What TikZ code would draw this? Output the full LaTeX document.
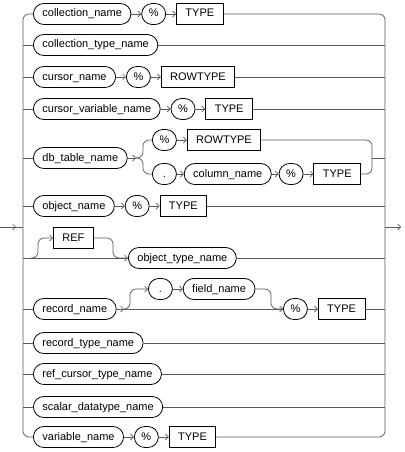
\documentclass[tikz,border=0pt]{standalone}
\usepackage{fontspec}
\setmainfont{Liberation Sans}
\usetikzlibrary{positioning,arrows.meta}

\tikzset{
  rail/.style={draw=black!65, line width=0.7pt},
  arr/.style={-{Straight Barb[length=3pt,width=6pt]}},
  ident/.style={draw, line width=0.8pt, rounded corners=10.5pt, minimum height=21pt,
                inner xsep=9pt, inner ysep=0pt, text height=8pt, text depth=2pt},
  sym/.style={ident, minimum width=24pt, inner xsep=2pt},
  kw/.style={draw, line width=0.8pt, minimum height=21pt, inner xsep=9pt, inner ysep=0pt,
             text height=8pt, text depth=2pt},
}

\begin{document}
\begin{tikzpicture}[x=1pt, y=-1pt, font=\fontsize{11}{13}\selectfont, node distance=10pt]
  \useasboundingbox (0,0) rectangle (404,452);
  % rails and the way in and out
  \coordinate (lrail) at (23,227);
  \coordinate (rrail) at (385,227);
  \coordinate (entry) at (0,227);
  \coordinate (exit) at (401,227);

  % collection_name % TYPE
  \node[ident, anchor=west] (colln) at (33,14) {collection\_name};
  \node[sym, right=of colln] (colpct) {\%};
  \node[kw, right=of colpct] (coltype) {TYPE};
  % collection_type_name
  \node[ident, anchor=west] (colltn) at (33,45) {collection\_type\_name};
  % cursor_name % ROWTYPE
  \node[ident, anchor=west] (curn) at (33,77) {cursor\_name};
  \node[sym, right=of curn] (curpct) {\%};
  \node[kw, right=of curpct] (currow) {ROWTYPE};
  % cursor_variable_name % TYPE
  \node[ident, anchor=west] (curvn) at (33,109) {cursor\_variable\_name};
  \node[sym, right=of curvn] (curvpct) {\%};
  \node[kw, right=of curvpct] (curvtype) {TYPE};
  % db_table_name with its two branches
  \node[ident, anchor=west] (dbtn) at (33,158) {db\_table\_name};
  \node[sym, anchor=west] (dbpct) at (152,140) {\%};
  \node[kw, right=of dbpct] (dbrow) {ROWTYPE};
  \node[sym, anchor=west] (dbdot) at (152,174) {.};
  \node[ident, right=7pt of dbdot] (coln) {column\_name};
  \node[sym, right=7pt of coln] (colnpct) {\%};
  \node[kw, right=of colnpct] (colntype) {TYPE};
  \coordinate (dbfork) at (136,158);
  \coordinate (dbjoin) at (372,158);
  % object_name % TYPE
  \node[ident, anchor=west] (objn) at (33,206) {object\_name};
  \node[sym, right=of objn] (objpct) {\%};
  \node[kw, right=of objpct] (objtype) {TYPE};
  % [REF] object_type_name
  \node[kw, anchor=west] (ref) at (53,238) {REF};
  \node[ident, anchor=west] (objtn) at (128,258) {object\_type\_name};
  \coordinate (reffork) at (31,258);
  \coordinate (refjoin) at (113,258);
  % record_name [. field_name] % TYPE
  \node[ident, anchor=west] (recn) at (33,309) {record\_name};
  \node[sym, anchor=west] (recdot) at (148,289) {.};
  \node[ident, right=of recdot] (fldn) {field\_name};
  \node[sym, anchor=west] (recpct) at (283,309) {\%};
  \node[kw, right=of recpct] (rectype) {TYPE};
  \coordinate (recfork) at (124,309);
  \coordinate (recjoin) at (271,309);
  % the plain names
  \node[ident, anchor=west] (rectn) at (33,343) {record\_type\_name};
  \node[ident, anchor=west] (refctn) at (33,374) {ref\_cursor\_type\_name};
  \node[ident, anchor=west] (scaln) at (33,407) {scalar\_datatype\_name};
  % variable_name % TYPE
  \node[ident, anchor=west] (varn) at (33,437) {variable\_name};
  \node[sym, right=of varn] (varpct) {\%};
  \node[kw, right=of varpct] (vartype) {TYPE};

  % in, out and the two rails
  \draw[rail] (entry) -- (lrail);
  \draw[rail,arr] (entry) -- ++(16,0);
  \draw[rail,arr] (rrail) -- (exit);
  \draw[rail, rounded corners=6pt] (colln.west) -| (lrail) |- (varn.west);
  \draw[rail, rounded corners=6pt] (coltype.east) -| (rrail) |- (vartype.east);
  \foreach \n in {colltn,curn,curvn,dbtn,objn,recn,rectn,refctn,scaln}
    \draw[rail] (lrail |- \n.west) -- (\n.west);
  \foreach \n in {colltn,currow,curvtype,dbjoin,objtype,objtn,rectype,rectn,refctn,scaln}
    \draw[rail] (\n.east) -- (\n.east -| rrail);

  % arrows along each row
  \foreach \a/\b in {colln/colpct,colpct/coltype,curn/curpct,curpct/currow,
                     curvn/curvpct,curvpct/curvtype,dbpct/dbrow,dbdot/coln,
                     coln/colnpct,colnpct/colntype,objn/objpct,objpct/objtype,
                     recdot/fldn,recpct/rectype,varn/varpct,varpct/vartype}
    \draw[rail,arr] (\a) -- (\b);

  % db_table_name branches
  \draw[rail,arr] (dbtn) -- (dbfork);
  \draw[rail, rounded corners=6pt] (dbfork) -- ++(7,0) |- (dbpct.west);
  \draw[rail, rounded corners=6pt] (dbfork) -- ++(7,0) |- (dbdot.west);
  \draw[rail, rounded corners=6pt] (dbrow.east) -| (dbjoin) |- (colntype.east);
  % optional REF
  \draw[rail,arr] (lrail |- objtn.west) -- (objtn.west);
  \draw[rail, rounded corners=6pt, arr] (reffork) -- ++(7,0) |- (ref.west);
  \draw[rail, rounded corners=6pt] (ref.east) -| (refjoin) -- (objtn.west);
  % optional . field_name
  \draw[rail,arr] (recn) -- (recfork);
  \draw[rail,arr] (recfork) -- (recpct);
  \draw[rail, rounded corners=6pt, arr] (recfork) -- ++(6,0) |- (recdot.west);
  \draw[rail, rounded corners=6pt] (fldn.east) -| (recjoin) -- (recpct.west);
\end{tikzpicture}
\end{document}
